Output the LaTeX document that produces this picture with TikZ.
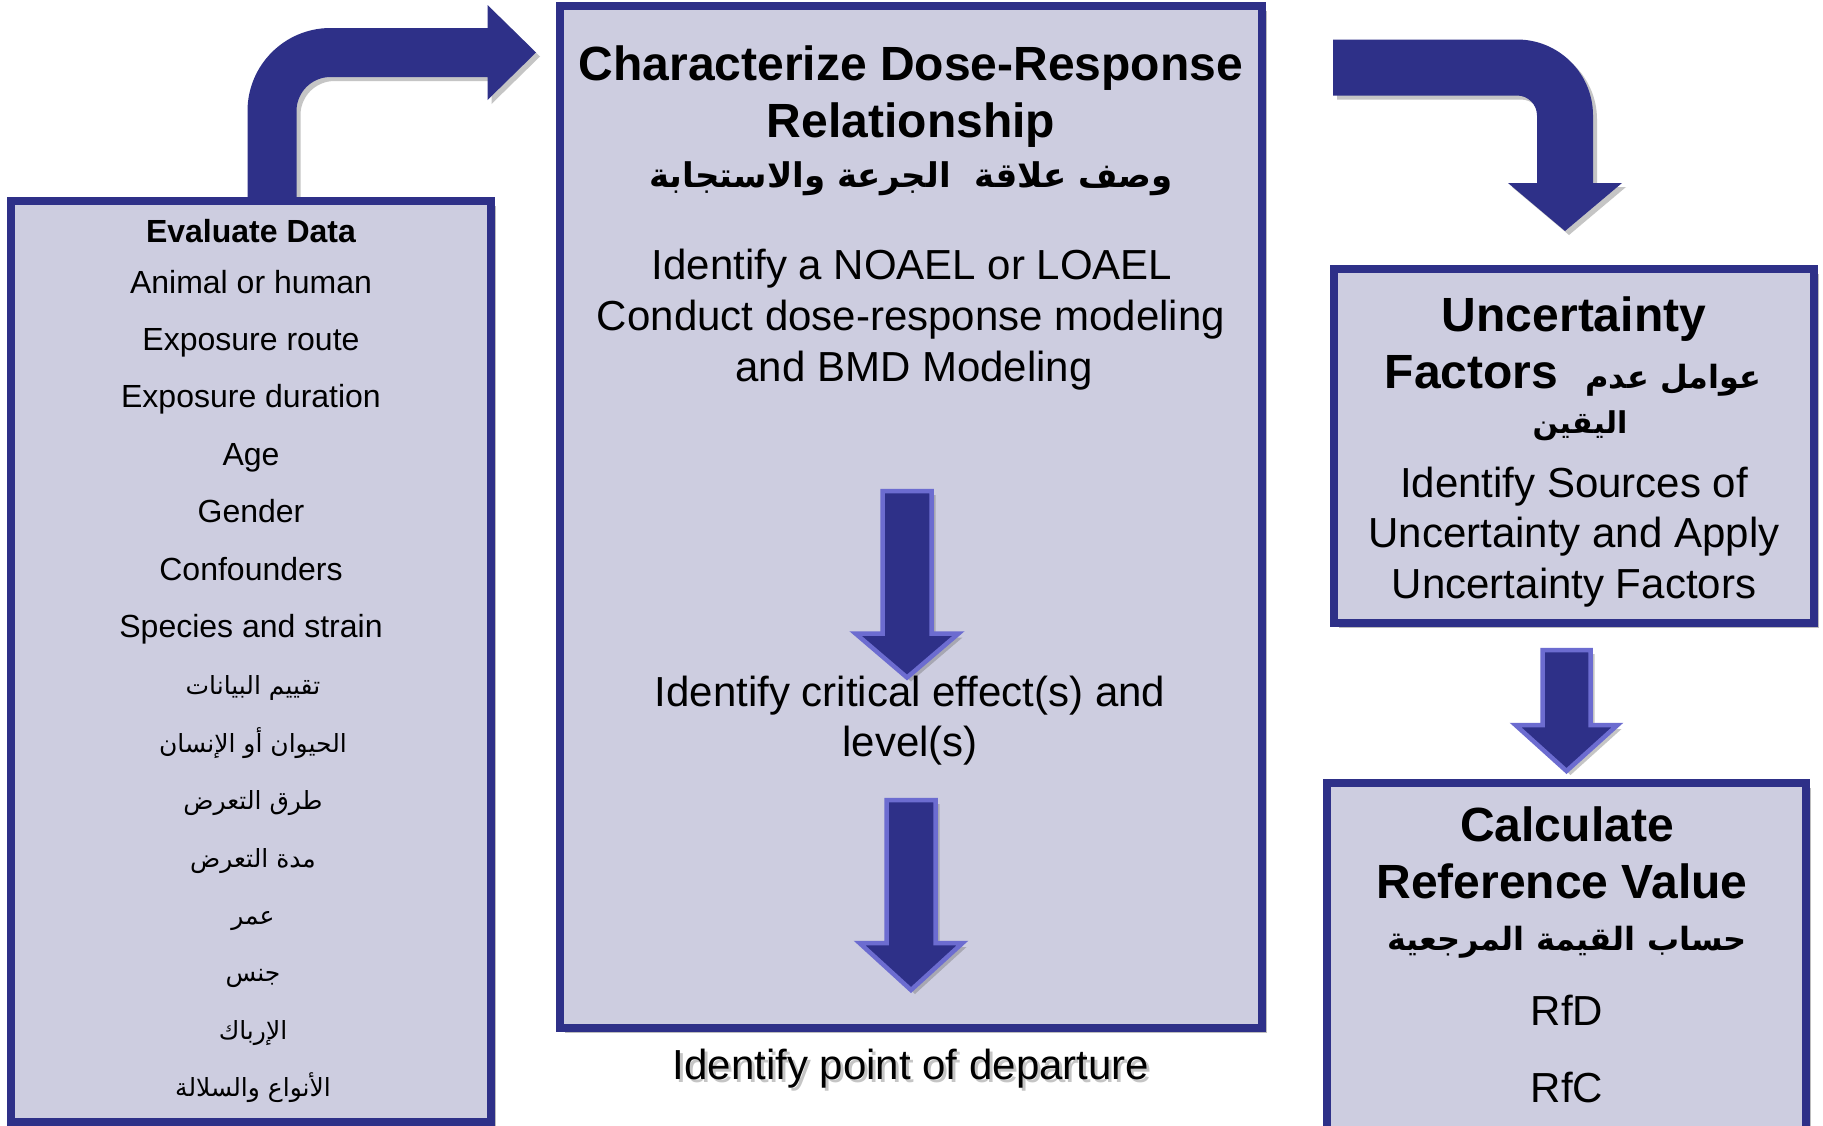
\documentclass[tikz,border=0pt]{standalone}
\usepackage{fontspec}
\setmainfont{Liberation Sans}
\newfontfamily\arabicfont[Script=Arabic]{DejaVu Sans}
\TeXXeTstate=1
\usetikzlibrary{shadows,calc}
\definecolor{navy}{RGB}{46,48,136}
\definecolor{lav}{RGB}{205,205,224}
\definecolor{peri}{RGB}{108,108,208}
\definecolor{shade}{RGB}{110,110,110}
\newcommand\downblock[5]{%
  \draw[blockarrow] let \p1=(#1), \p2=(#2) in
    (\x2-#3pt,\y1) -- (\x2+#3pt,\y1) -- (\x2+#3pt,\y2+#5pt) -- (\x2+#4pt,\y2+#5pt)
    -- (\x2,\y2) -- (\x2-#4pt,\y2+#5pt) -- (\x2-#3pt,\y2+#5pt) -- cycle;}
\begin{document}
\begin{tikzpicture}[x=1pt,y=-1pt,
  panel/.style={rectangle, draw=navy, fill=lav, line width=8pt, inner sep=0pt,
    drop shadow={shadow xshift=5pt, shadow yshift=-5pt, opacity=0.45, fill=shade}},
  bentarrow/.style={fill=navy, draw=none,
    drop shadow={shadow xshift=4pt, shadow yshift=-4pt, opacity=0.4, fill=shade}},
  blockarrow/.style={fill=navy, draw=peri, line width=4.5pt,
    drop shadow={shadow xshift=4pt, shadow yshift=-4pt, opacity=0.4, fill=shade}},
  lt/.style={anchor=base, inner sep=0pt, font=\fontsize{32}{38}\selectfont},
  la/.style={anchor=base, inner sep=0pt, font=\arabicfont\fontsize{25}{30}\selectfont},
  rt/.style={anchor=base, inner sep=0pt, font=\fontsize{42}{50}\selectfont},
  bt/.style={anchor=base, inner sep=0pt, font=\fontsize{48}{56}\selectfont\bfseries},
  ba/.style={anchor=base, inner sep=0pt, font=\arabicfont\bfseries\fontsize{34}{40}\selectfont}]

\useasboundingbox (0,0) rectangle (1823,1125);
\fill[white] (0,0) rectangle (1823,1125);

% bent arrows
\draw[bentarrow] (247.5,205) -- (247.5,111) arc[start angle=180, end angle=270, radius=83]
  -- (487.5,28) -- (487.5,5) -- (536,52.5) -- (487.5,100) -- (487.5,77) -- (330.5,77)
  arc[start angle=270, end angle=180, radius=34] -- (296.5,205) -- cycle;
\draw[bentarrow] (1333,39.5) -- (1517,39.5) arc[start angle=270, end angle=360, radius=76]
  -- (1593,183) -- (1622,183) -- (1565,231) -- (1508,183) -- (1537,183) -- (1537,115.5)
  arc[start angle=0, end angle=-90, radius=20] -- (1333,95.5) -- cycle;

% panels
\node[panel, minimum width=480pt, minimum height=921pt] (eval) at (251,661.5) {};
\node[panel, minimum width=702pt, minimum height=1022pt] (dose) at (911,517) {};
\node[panel, minimum width=480pt, minimum height=354pt] (uf) at (1574,446) {};
\node[panel, minimum width=479pt, minimum height=377pt] (calc) at (1566.5,971.5) {};

% straight arrows
\coordinate (atop) at (907,491);
\coordinate (atip) at (907,677.5);
\coordinate (btop) at (911,800);
\coordinate (btip) at (911,990);
\coordinate (ctop) at ($(calc.north)+(0,-129)$);
\coordinate (ctip) at ($(calc.north)+(0,-8)$);
\downblock{atop}{atip}{24.5}{51.5}{44}
\downblock{btop}{btip}{24.5}{51.5}{47}
\downblock{ctop}{ctip}{24}{51}{46}

% left panel text
\node[lt, font=\fontsize{32}{38}\selectfont\bfseries] (l0) at (251,242) {Evaluate Data};
\foreach \s [count=\i] in {Animal or human, Exposure route, Exposure duration, Age, Gender, Confounders, Species and strain}
  \node[lt] (l\i) at (251,{293+57.4*(\i-1)}) {\s};
\foreach \s [count=\i from 8] in {تقييم البيانات, الحيوان أو الإنسان, طرق التعرض, مدة التعرض, عمر, جنس, الإرباك, الأنواع والسلالة}
  \node[la] (l\i) at (253,{293+57.4*(\i-1)}) {\beginR\s\endR};

% middle panel text
\node[bt] (m1) at (911,80) {Characterize Dose-Response};
\node[bt] (m2) at (911,137) {Relationship};
\node[ba] (m3) at (911,187) {\beginR وصف علاقة \ الجرعة والاستجابة\endR};
\node[rt] (m4) at (912,279) {Identify a NOAEL or LOAEL};
\node[rt] (m5) at (911,330) {Conduct dose-response modeling};
\node[rt] (m6) at (914,381) {and BMD Modeling};
\node[rt] (m7) at (910,706) {Identify critical effect(s) and};
\node[rt] (m8) at (910,756) {level(s)};
\node[rt, text=shade, opacity=0.4] (pdsh) at (914,1082) {Identify point of departure};
\node[rt] (pd) at (911,1079) {Identify point of departure};

% uncertainty panel text
\node[bt] (u1) at (1574,331) {Uncertainty};
\node[bt] (u2) at (1573,388) {Factors\hspace{27pt}{\arabicfont\fontsize{32}{38}\selectfont\beginR عوامل عدم\endR}};
\node[ba, font=\arabicfont\bfseries\fontsize{30}{36}\selectfont] (u3) at (1580,433) {\beginR اليقين\endR};
\node[rt] (u4) at (1574,497) {Identify Sources of};
\node[rt] (u5) at (1574,547) {Uncertainty and Apply};
\node[rt] (u6) at (1574,598) {Uncertainty Factors};

% calculate panel text
\node[bt] (c1) at (1567,841) {Calculate};
\node[bt] (c2) at (1562,898) {Reference Value};
\node[ba, font=\arabicfont\bfseries\fontsize{32}{38}\selectfont] (c3) at (1567,950) {\beginR حساب القيمة المرجعية\endR};
\node[rt] (c4) at (1567,1025) {RfD};
\node[rt] (c5) at (1567,1102) {RfC};
\end{tikzpicture}
\end{document}
